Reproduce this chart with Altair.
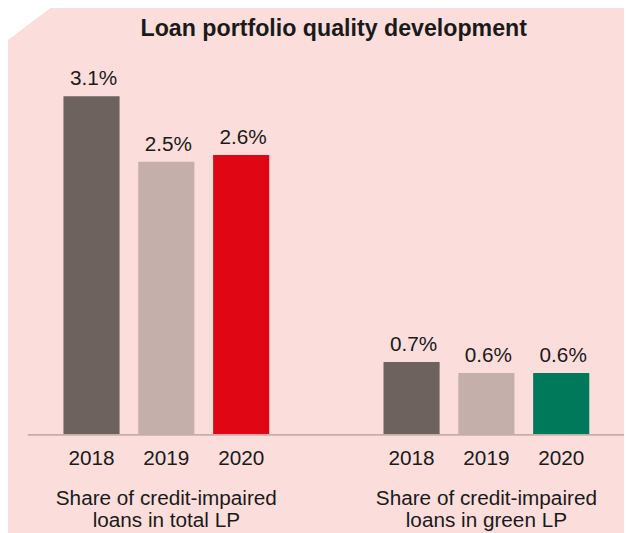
import altair as alt
import pandas as pd

# ---- data ----
groups = ["total", "green"]
group_labels = ["Share of credit-impaired\nloans in total LP",
                "Share of credit-impaired\nloans in green LP"]
years = ["2018", "2019", "2020"]
total_values = [3.1, 2.5, 2.56]
green_values = [0.66, 0.56, 0.56]
title_text = "Loan portfolio quality development"

bar_keys = [g + y for g in groups for y in years]
bar_colors = ["#6e625f", "#c4afab", "#e10613", "#6e625f", "#c4afab", "#00785a"]

df = pd.DataFrame({
    "group": [g for g in groups for _ in years],
    "year": years * 2,
    "value": total_values + green_values,
})
df["key"] = df["group"] + df["year"]

glab = pd.DataFrame({"group": groups, "label": group_labels})

BG = "#fbdedc"
TXT = "#1a1a1a"
FONT = "Liberation Sans"

x_enc = alt.X("group:N", sort=groups, axis=None,
              scale=alt.Scale(paddingInner=0.14, paddingOuter=0))
xo_enc = alt.XOffset("year:N", sort=years,
                     scale=alt.Scale(paddingInner=0.25, paddingOuter=0.464))
y_scale = alt.Scale(domain=[0, 3.88])

base = alt.Chart(df)

bars = base.mark_bar().encode(
    x=x_enc, xOffset=xo_enc,
    y=alt.Y("value:Q", scale=y_scale, axis=None),
    color=alt.Color("key:N", scale=alt.Scale(domain=bar_keys, range=bar_colors), legend=None),
)

values = base.transform_calculate(
    lab="format(datum.value, '.1f') + '%'"
).mark_text(font=FONT, fontSize=21, color=TXT, baseline="alphabetic", dy=-11, dx=2).encode(
    x=x_enc, xOffset=xo_enc,
    y=alt.Y("value:Q", scale=y_scale, axis=None),
    text="lab:N",
)

year_text = base.mark_text(font=FONT, fontSize=21, color=TXT, baseline="alphabetic").encode(
    x=x_enc, xOffset=xo_enc,
    y=alt.value(460),
    text="year:N",
)

group_text = alt.Chart(glab).mark_text(
    font=FONT, fontSize=21, color=TXT, baseline="alphabetic", lineBreak="\n", lineHeight=22
).encode(
    x=alt.X("group:N", sort=groups, axis=None,
            scale=alt.Scale(paddingInner=0.14, paddingOuter=0)),
    y=alt.value(500),
    text="label:N",
)

baseline = alt.Chart(pd.DataFrame({"a": [0]})).mark_rule(color="#c5aeaa", strokeWidth=2).encode(
    x=alt.value(-1), x2=alt.value(603), y=alt.value(429),
)

title = alt.Chart(pd.DataFrame({"t": [title_text]})).mark_text(
    font="Liberation Sans Narrow, Liberation Sans", fontWeight="bold", fontSize=23.5,
    color=TXT, baseline="alphabetic", align="center"
).encode(x=alt.value(309), y=alt.value(25), text="t:N")

corner = alt.Chart(pd.DataFrame({"a": [0]})).mark_point(
    shape="M-0.1,-0.1 L1.133,-0.1 L-0.1,0.829 Z", filled=True, color="white",
    opacity=1, size=12996, strokeWidth=0
).encode(x=alt.value(-29), y=alt.value(-8))

chart = alt.layer(bars, baseline, values, year_text, group_text, title, corner).properties(
    width=603, height=428,
    padding={"left": 21, "top": 0, "right": 0, "bottom": 97},
    autosize=alt.AutoSizeParams(type="none"),
    background=BG,
).configure_view(stroke=None)

chart.save("out.html", embed_options={"renderer": "svg", "actions": False})
